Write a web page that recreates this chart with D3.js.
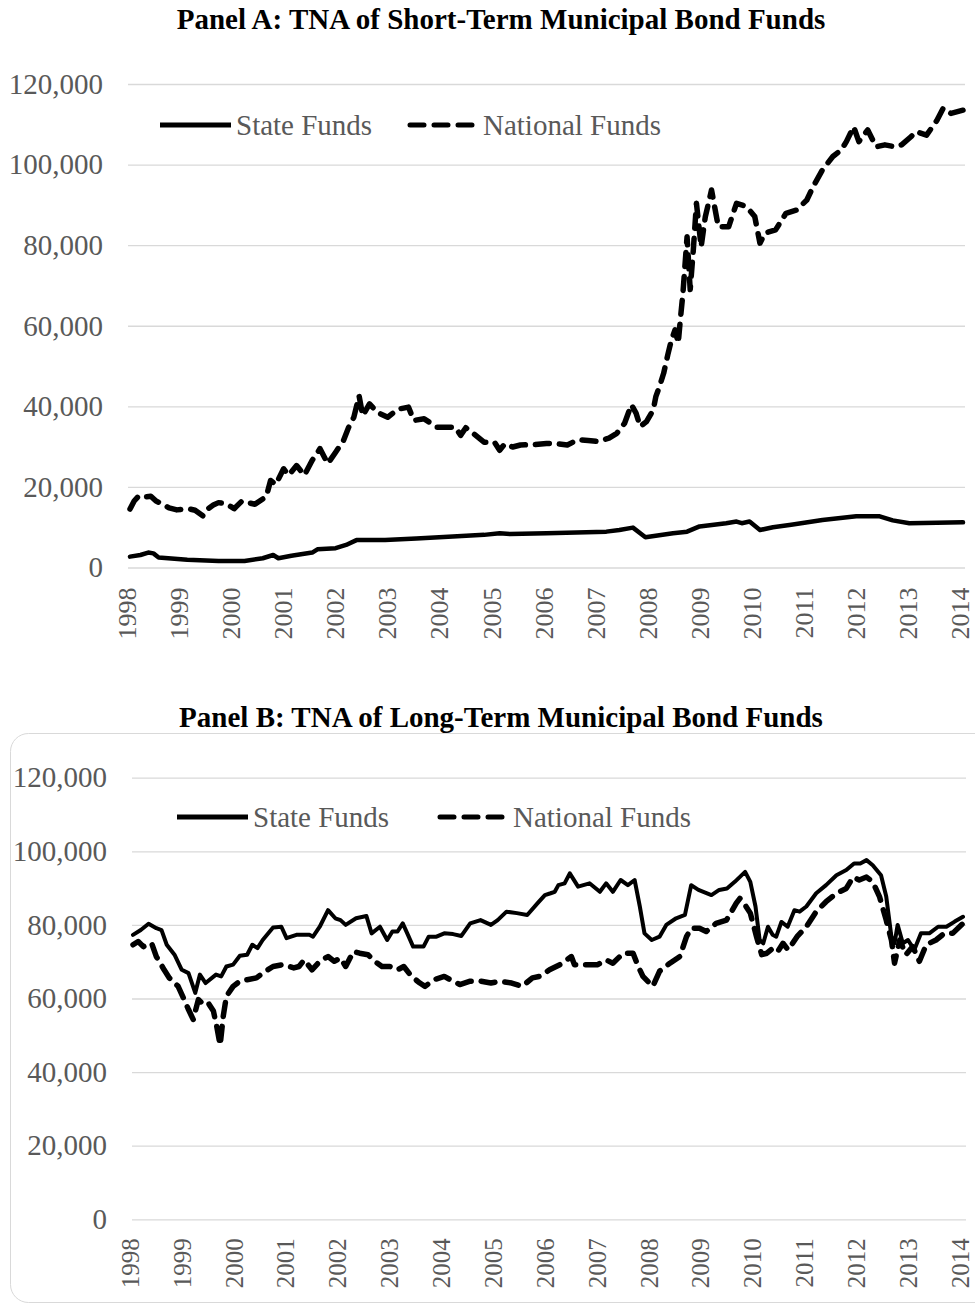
<!DOCTYPE html>
<html>
<head>
<meta charset="utf-8">
<script src="https://cdn.jsdelivr.net/npm/d3@7"></script>
<style>
  body { margin: 0; background: #fff; }
  svg text { font-family: "Liberation Serif", "Times New Roman", serif; }
</style>
</head>
<body>
<svg id="chart" width="975" height="1312"></svg>
<script>
// x axis: one label per January
let years = d3.range(1998, 2015)
let yTicks = [0, 20000, 40000, 60000, 80000, 100000, 120000]
let seriesNames = ['State Funds', 'National Funds']

// Panel A (short-term), [year, TNA]
let stateShort = [
  [1998.0,2700],[1998.2,3100],[1998.35,3700],[1998.45,3500],[1998.55,2500],[1999.1,1900],[1999.7,1600],
  [2000.2,1600],[2000.55,2300],[2000.75,3100],[2000.85,2300],[2001.1,2900],[2001.5,3700],[2001.6,4500],
  [2001.95,4800],[2002.15,5600],[2002.35,6800],[2002.9,6800],[2003.5,7200],[2004.2,7700],[2004.8,8100],
  [2005.1,8500],[2005.3,8300],[2006.0,8500],[2007.15,8900],[2007.4,9300],[2007.66,9900],[2007.9,7500],
  [2008.43,8500],[2008.7,8900],[2008.94,10200],[2009.45,11000],[2009.65,11400],[2009.75,11000],
  [2009.9,11400],[2010.1,9300],[2010.35,10000],[2010.7,10600],[2011.3,11800],[2011.95,12700],
  [2012.4,12700],[2012.65,11700],[2012.97,11000],[2013.5,11100],[2014.0,11200]
]
let nationalShort = [
  [1998.0,14500],[1998.08,16500],[1998.17,17800],[1998.3,17500],[1998.4,17700],[1998.5,16500],[1998.6,15900],
  [1998.75,14800],[1998.9,14300],[1999.0,14400],[1999.15,14500],[1999.25,14200],[1999.4,12800],[1999.5,14600],
  [1999.6,15500],[1999.7,16100],[1999.85,15800],[2000.0,14600],[2000.15,16500],[2000.3,16000],[2000.4,15700],
  [2000.55,17000],[2000.62,17700],[2000.7,21600],[2000.8,20600],[2000.95,24500],[2001.05,22900],[2001.2,25300],
  [2001.35,22900],[2001.5,26600],[2001.65,29500],[2001.75,27000],[2001.8,25800],[2001.95,28600],[2002.1,31500],
  [2002.2,34800],[2002.3,37300],[2002.4,42600],[2002.47,37700],[2002.6,40600],[2002.75,38500],[2002.95,37300],
  [2003.15,39300],[2003.35,39800],[2003.45,36500],[2003.65,36900],[2003.9,34800],[2004.1,34800],[2004.25,34800],
  [2004.35,32800],[2004.45,34700],[2004.6,33200],[2004.8,31100],[2005.0,31100],[2005.1,29100],[2005.2,30700],
  [2005.35,29900],[2005.5,30400],[2005.75,30500],[2006.0,30800],[2006.2,30700],[2006.4,30400],[2006.6,31700],
  [2006.8,31500],[2007.0,31300],[2007.2,32100],[2007.35,33300],[2007.5,35800],[2007.63,40400],[2007.72,38300],
  [2007.8,35000],[2007.92,36200],[2008.05,39100],[2008.1,42400],[2008.17,44900],[2008.25,48200],[2008.33,52800],
  [2008.4,56500],[2008.47,59000],[2008.53,55700],[2008.57,61400],[2008.62,68000],[2008.66,75000],[2008.7,82100],
  [2008.76,69000],[2008.82,78800],[2008.88,90400],[2008.97,79600],[2009.05,87000],[2009.17,93700],[2009.3,84600],
  [2009.5,84600],[2009.65,90400],[2009.84,89600],[2010.0,87100],[2010.1,80500],[2010.2,83000],[2010.4,83800],
  [2010.6,87900],[2010.8,88700],[2011.0,91200],[2011.12,94500],[2011.3,98700],[2011.5,102000],[2011.66,103600],
  [2011.76,105700],[2011.9,109400],[2012.0,105700],[2012.17,108600],[2012.33,104400],[2012.5,104900],
  [2012.7,104400],[2012.82,104900],[2013.0,106900],[2013.1,108200],[2013.3,107300],[2013.5,111000],
  [2013.62,114000],[2013.77,112700],[2014.0,113500]
]

// Panel B (long-term), [year, TNA]
let stateLong = [
  [1998.0,77300],[1998.15,78600],[1998.3,80300],[1998.45,79100],[1998.55,78600],[1998.65,74600],[1998.8,71900],
  [1998.94,67800],[1999.07,66900],[1999.2,61500],[1999.29,66500],[1999.4,64200],[1999.6,66500],[1999.7,66000],
  [1999.8,68700],[1999.93,69200],[2000.06,71600],[2000.2,71900],[2000.3,74600],[2000.4,73700],[2000.5,75900],
  [2000.7,79300],[2000.86,79500],[2000.96,76400],[2001.15,77300],[2001.4,77300],[2001.47,76800],[2001.6,79500],
  [2001.76,84000],[2001.9,81800],[2002.0,81300],[2002.1,80000],[2002.3,81800],[2002.5,82400],[2002.6,77700],
  [2002.76,79500],[2002.9,75900],[2003.0,78200],[2003.1,78200],[2003.2,80400],[2003.3,77300],[2003.4,74100],
  [2003.6,74100],[2003.7,76800],[2003.85,76800],[2004.0,77700],[2004.17,77500],[2004.33,77000],[2004.5,80400],
  [2004.7,81300],[2004.9,80000],[2005.03,81300],[2005.2,83600],[2005.4,83200],[2005.6,82700],[2005.8,85900],
  [2005.94,88100],[2006.05,88600],[2006.13,89000],[2006.2,90800],[2006.32,91300],[2006.42,94000],[2006.58,90400],
  [2006.8,91300],[2007.0,89000],[2007.12,91300],[2007.25,89000],[2007.4,92200],[2007.54,90800],[2007.67,92200],
  [2007.77,85000],[2007.86,77700],[2008.0,75900],[2008.15,76800],[2008.28,80000],[2008.47,81800],[2008.64,82700],
  [2008.76,90800],[2008.9,89500],[2009.15,88100],[2009.3,89500],[2009.45,89900],[2009.6,91700],[2009.8,94400],
  [2009.9,91700],[2010.0,85000],[2010.08,75900],[2010.15,75000],[2010.24,79500],[2010.33,77300],[2010.4,76800],
  [2010.5,80800],[2010.62,79500],[2010.75,84000],[2010.85,83600],[2010.98,85000],[2011.17,88600],[2011.36,90800],
  [2011.56,93500],[2011.75,94900],[2011.9,96700],[2012.02,96700],[2012.14,97600],[2012.26,96200],[2012.42,93500],
  [2012.52,87700],[2012.62,76800],[2012.68,75000],[2012.74,80000],[2012.84,75000],[2012.94,75900],[2013.06,73200],
  [2013.19,77700],[2013.35,77700],[2013.52,79500],[2013.68,79500],[2013.84,80900],[2014.0,82200]
]
let nationalLong = [
  [1998.0,74600],[1998.1,75500],[1998.2,74100],[1998.36,75000],[1998.45,71400],[1998.6,67800],[1998.7,65600],
  [1998.87,63300],[1998.97,60200],[1999.07,57000],[1999.16,54300],[1999.26,59700],[1999.36,58400],[1999.45,58800],
  [1999.55,56600],[1999.62,52000],[1999.68,47300],[1999.74,55200],[1999.8,60600],[1999.93,63300],[2000.06,64700],
  [2000.2,65100],[2000.38,65600],[2000.5,66900],[2000.7,68700],[2000.9,69200],[2001.1,68300],[2001.2,68700],
  [2001.3,70500],[2001.45,67800],[2001.6,70100],[2001.76,71400],[2001.88,70100],[2002.0,71000],[2002.1,68700],
  [2002.25,72800],[2002.37,72300],[2002.53,71900],[2002.66,70100],[2002.8,68700],[2002.95,68700],[2003.1,67800],
  [2003.22,68700],[2003.37,66000],[2003.53,64200],[2003.63,63300],[2003.8,65100],[2004.0,66000],[2004.17,64700],
  [2004.3,63800],[2004.5,64700],[2004.7,64700],[2004.9,64200],[2005.07,64700],[2005.3,64200],[2005.5,63300],
  [2005.7,65600],[2005.84,66000],[2006.03,67800],[2006.23,69200],[2006.45,71400],[2006.51,69200],[2006.74,69200],
  [2006.96,69200],[2007.12,70500],[2007.25,69600],[2007.45,72300],[2007.64,72300],[2007.74,68700],[2007.83,66000],
  [2008.02,63300],[2008.15,67400],[2008.35,69600],[2008.54,71400],[2008.67,76800],[2008.76,79100],[2008.92,79100],
  [2009.05,78200],[2009.24,80400],[2009.44,81300],[2009.63,85900],[2009.7,87200],[2009.8,85400],[2009.9,83200],
  [2010.02,76800],[2010.12,71900],[2010.22,72300],[2010.34,73700],[2010.43,72800],[2010.53,75000],[2010.63,73200],
  [2010.8,76800],[2010.98,79500],[2011.17,83600],[2011.36,86300],[2011.56,88600],[2011.75,89900],[2011.88,93000],
  [2012.0,92200],[2012.14,93000],[2012.26,91700],[2012.39,87700],[2012.52,81300],[2012.62,75900],[2012.68,69600],
  [2012.78,75900],[2012.9,71900],[2013.03,74100],[2013.16,70100],[2013.29,74600],[2013.48,75900],[2013.64,77700],
  [2013.8,77700],[2014.0,80400]
]

let svg = d3.select('#chart')
let labelColor = '#595959'
let gridColor = '#d9d9d9'
let dashPattern = '14 10'

function drawPanel(p) {
  let g = svg.append('g')

  g.append('text')
    .attr('x', 501).attr('y', p.titleY)
    .attr('text-anchor', 'middle')
    .style('font-size', '29px').style('font-weight', 'bold')
    .text(p.title)

  let x = d3.scaleLinear().domain([1998, 2014]).range([p.left, p.right])
  let y = d3.scaleLinear().domain([0, 120000]).range([p.bottom, p.top])

  // gridlines + y labels
  let yAxis = g.append('g')
    .attr('transform', `translate(${p.gridLeft},0)`)
    .call(d3.axisLeft(y).tickValues(yTicks).tickFormat(d3.format(','))
      .tickSize(-(p.gridRight - p.gridLeft)).tickPadding(25))
  yAxis.select('.domain').remove()
  yAxis.selectAll('line').attr('stroke', gridColor).attr('stroke-width', 1.3)
  yAxis.selectAll('text')
    .attr('fill', labelColor).style('font-size', '29px')
    .style('font-family', '"Liberation Serif", serif')

  // year labels, rotated
  let xAxis = g.append('g')
    .attr('transform', `translate(0,${p.bottom})`)
    .call(d3.axisBottom(x).tickValues(years).tickFormat(d3.format('d')).tickSize(0))
  xAxis.select('.domain').remove()
  xAxis.selectAll('text')
    .attr('fill', labelColor).style('font-size', p.xFont + 'px')
    .style('font-family', '"Liberation Serif", serif')
    .attr('text-anchor', 'end')
    .attr('transform', 'rotate(-90)')
    .attr('x', -p.xGap).attr('y', -3.5).attr('dy', '0.35em')

  let line = d3.line()
    .x(d => x(d[0]))
    .y(d => y(d[1]))

  g.append('path').datum(p.state)
    .attr('d', line).attr('fill', 'none')
    .attr('stroke', '#000').attr('stroke-width', p.solidWidth)
    .attr('stroke-linejoin', 'round').attr('stroke-linecap', 'round')

  g.append('path').datum(p.national)
    .attr('d', line).attr('fill', 'none')
    .attr('stroke', '#000').attr('stroke-width', 5.5)
    .attr('stroke-dasharray', dashPattern)
    .attr('stroke-linejoin', 'round').attr('stroke-linecap', 'round')

  // legend
  let lg = g.append('g')
  let items = [
    {name: seriesNames[0], x0: p.leg[0], dash: null},
    {name: seriesNames[1], x0: p.leg[1], dash: dashPattern}
  ]
  items.forEach(it => {
    lg.append('line')
      .attr('x1', it.x0 + (it.dash ? 3 : 0)).attr('x2', it.x0 + 71)
      .attr('y1', p.legY).attr('y2', p.legY)
      .attr('stroke', '#000').attr('stroke-width', 5)
      .attr('stroke-linecap', it.dash ? 'round' : 'butt')
      .attr('stroke-dasharray', it.dash)
    lg.append('text')
      .attr('x', it.x0 + 76).attr('y', p.legY + 10)
      .attr('fill', labelColor).style('font-size', '29px')
      .text(it.name)
  })
}

// rounded frame around panel B
svg.append('rect')
  .attr('x', 10.5).attr('y', 733.5).attr('width', 985).attr('height', 569)
  .attr('rx', 18).attr('fill', 'none').attr('stroke', gridColor)

drawPanel({
  title: 'Panel A: TNA of Short-Term Municipal Bond Funds', titleY: 29,
  left: 130, right: 963, top: 84, bottom: 567.5,
  gridLeft: 128, gridRight: 965, xFont: 26, xGap: 20, solidWidth: 4.5,
  state: stateShort, national: nationalShort,
  leg: [160, 407], legY: 125
})

drawPanel({
  title: 'Panel B: TNA of Long-Term Municipal Bond Funds', titleY: 727,
  left: 133, right: 963, top: 777.7, bottom: 1219.3,
  gridLeft: 132, gridRight: 966, xFont: 25, xGap: 19, solidWidth: 4,
  state: stateLong, national: nationalLong,
  leg: [177, 437], legY: 817
})
</script>
</body>
</html>
